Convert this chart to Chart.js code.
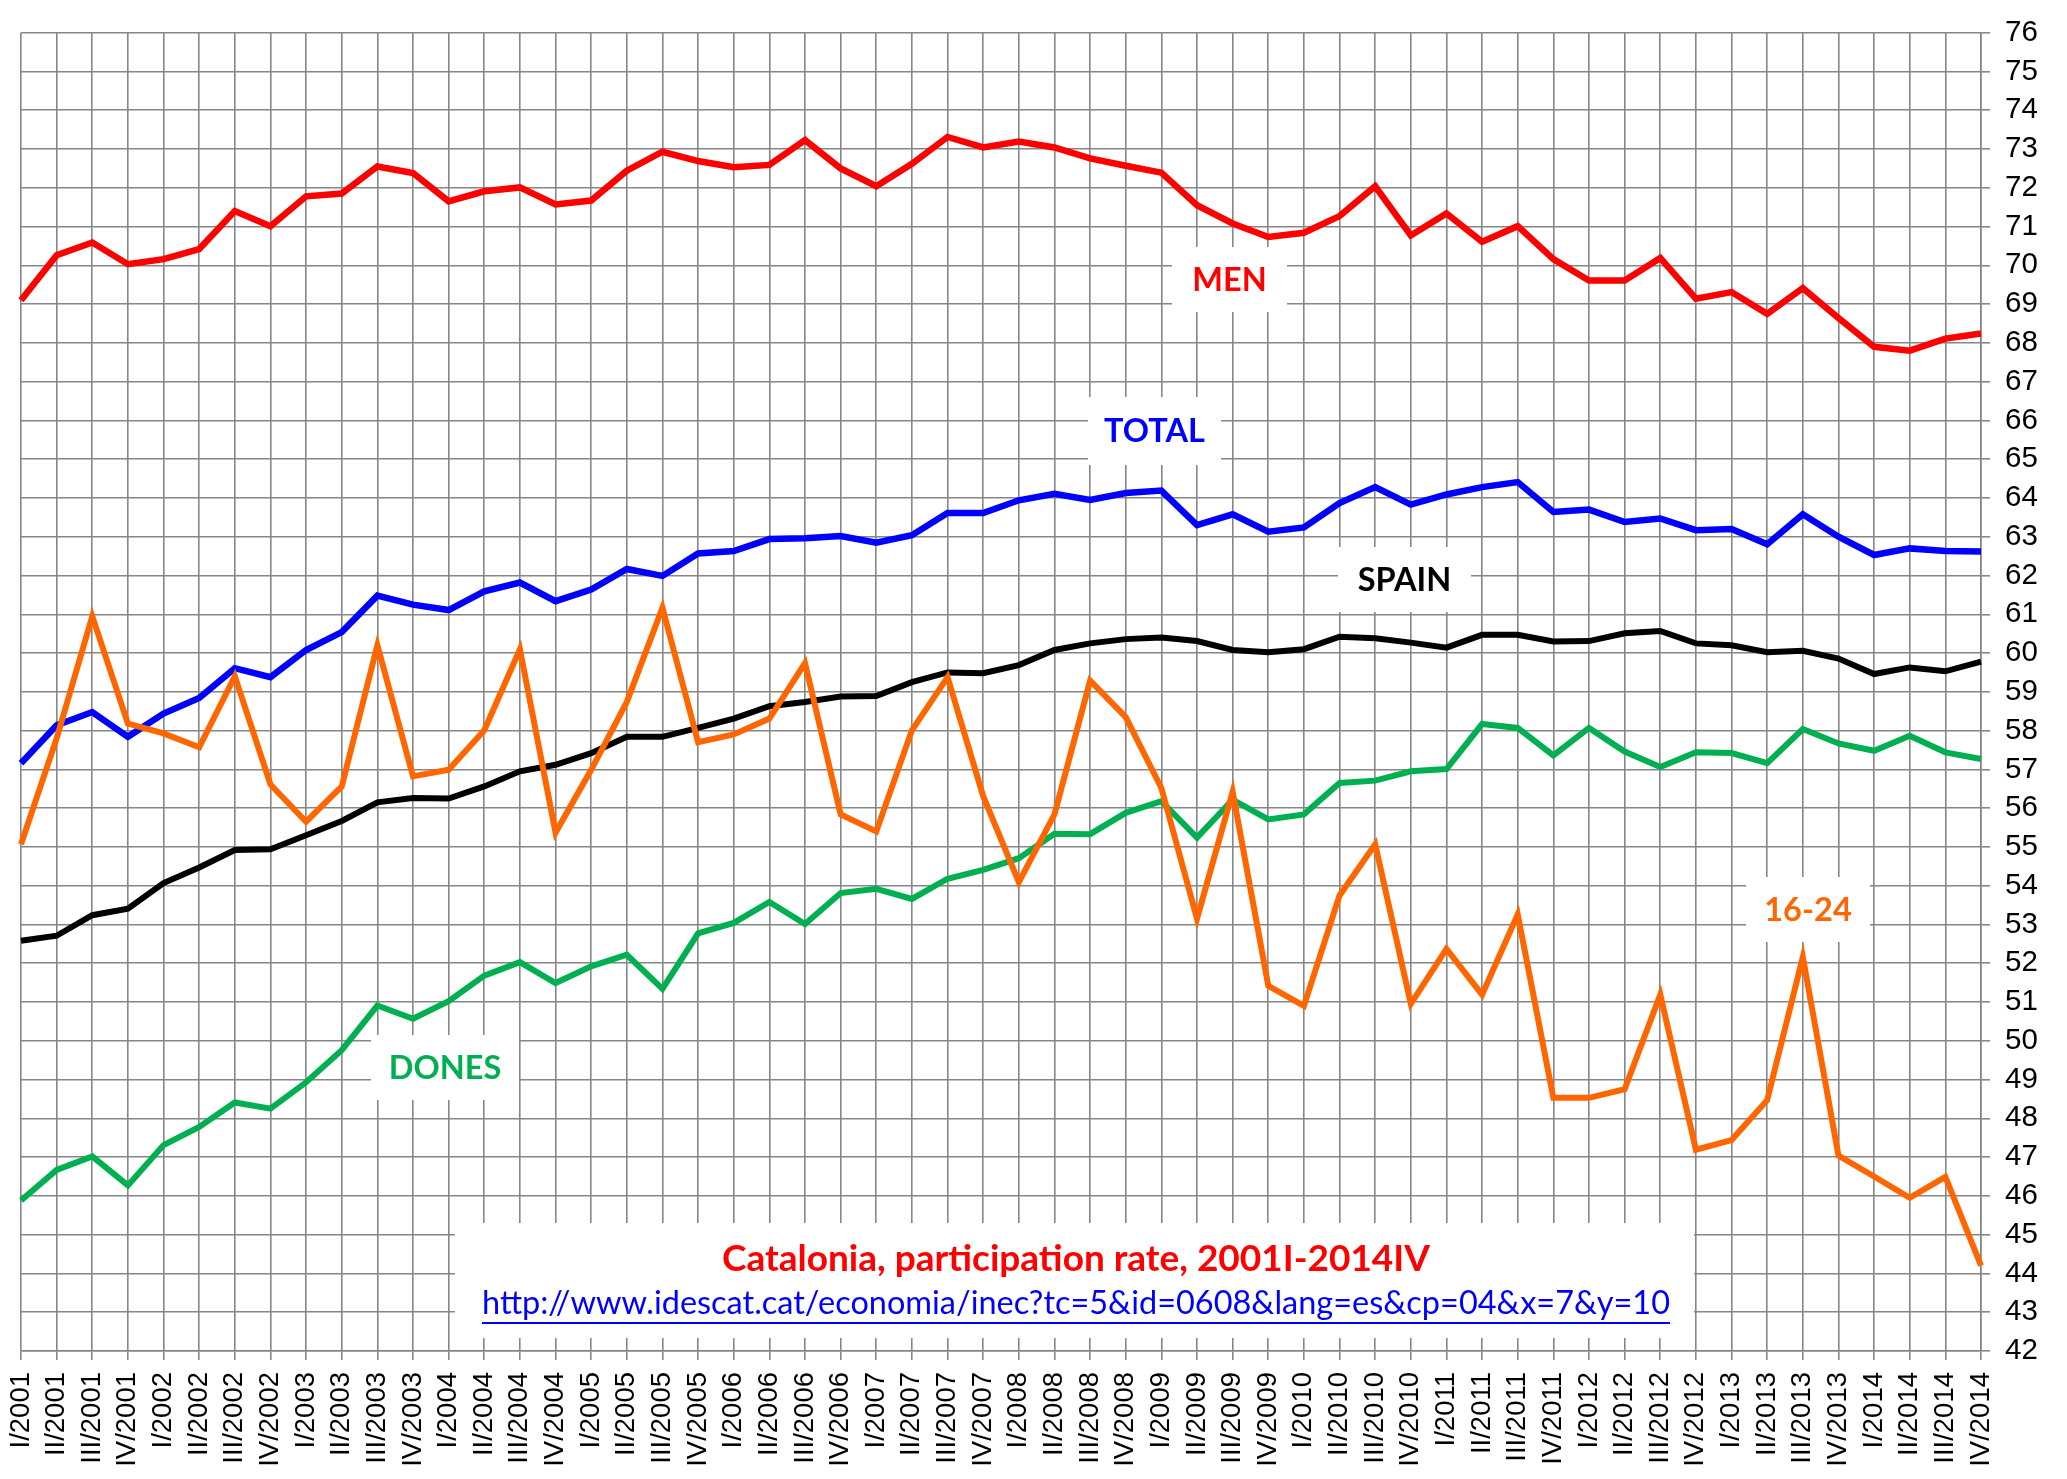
<!DOCTYPE html>
<html lang="en">
<head>
    <meta charset="UTF-8">
    <title>Catalonia, participation rate, 2001I-2014IV</title>
    <script src="https://cdn.jsdelivr.net/npm/chart.js"></script>
    <style>
        html, body { margin: 0; padding: 0; background: #fff; }
        #wrap { width: 2067px; height: 1479px; }
    </style>
</head>
<body>
    <div id="wrap">
        <canvas id="rateChart" width="2067" height="1479"></canvas>
    </div>

    <script>
        // quarters 2001 I .. 2014 IV
        const romans = ['I', 'II', 'III', 'IV'];
        const quarters = [];
        for (let y = 2001; y <= 2014; y++) {
            romans.forEach(r => quarters.push(r + '/' + y));
        }

        const men = [69.1, 70.26, 70.59, 70.03, 70.16, 70.42, 71.4, 71.01, 71.78, 71.85,
            72.55, 72.38, 71.65, 71.91, 72.01, 71.57, 71.67, 72.44, 72.93, 72.69,
            72.53, 72.59, 73.23, 72.5, 72.04, 72.62, 73.31, 73.04, 73.19, 73.04,
            72.76, 72.57, 72.39, 71.55, 71.08, 70.73, 70.84, 71.27, 72.04, 70.77,
            71.34, 70.61, 71.01, 70.16, 69.61, 69.61, 70.19, 69.14, 69.31, 68.75,
            69.41, 68.64, 67.9, 67.8, 68.11, 68.24];

        const total = [57.16, 58.14, 58.48, 57.84, 58.44, 58.84, 59.61, 59.38, 60.08, 60.54,
            61.48, 61.25, 61.11, 61.59, 61.82, 61.34, 61.64, 62.17, 61.99, 62.57,
            62.63, 62.94, 62.96, 63.02, 62.85, 63.04, 63.61, 63.61, 63.94, 64.11,
            63.95, 64.13, 64.19, 63.3, 63.58, 63.13, 63.24, 63.87, 64.28, 63.83,
            64.09, 64.28, 64.41, 63.64, 63.7, 63.38, 63.47, 63.17, 63.2, 62.81,
            63.58, 63.0, 62.53, 62.7, 62.63, 62.62];

        const spain = [52.58, 52.71, 53.24, 53.41, 54.07, 54.47, 54.92, 54.94, 55.3, 55.67,
            56.15, 56.26, 56.25, 56.56, 56.95, 57.12, 57.42, 57.84, 57.84, 58.07,
            58.31, 58.63, 58.74, 58.88, 58.89, 59.25, 59.5, 59.48, 59.69, 60.08,
            60.25, 60.36, 60.4, 60.31, 60.08, 60.02, 60.1, 60.42, 60.38, 60.27,
            60.14, 60.47, 60.47, 60.3, 60.31, 60.51, 60.57, 60.25, 60.2, 60.02,
            60.06, 59.86, 59.46, 59.63, 59.53, 59.78];

        const dones = [45.88, 46.67, 47.02, 46.27, 47.31, 47.78, 48.41, 48.25, 48.93, 49.76,
            50.91, 50.57, 51.02, 51.68, 52.03, 51.49, 51.92, 52.22, 51.34, 52.77,
            53.04, 53.58, 53.01, 53.81, 53.92, 53.66, 54.18, 54.41, 54.71, 55.34,
            55.33, 55.88, 56.18, 55.24, 56.22, 55.71, 55.84, 56.65, 56.71, 56.95,
            57.01, 58.17, 58.07, 57.36, 58.07, 57.46, 57.06, 57.44, 57.42, 57.16,
            58.04, 57.67, 57.48, 57.87, 57.44, 57.27];

        const young = [55.07, 57.8, 60.95, 58.18, 57.93, 57.57, 59.4, 56.61, 55.65, 56.56,
            60.2, 56.82, 56.99, 58.01, 60.1, 55.37, 56.99, 58.74, 61.17, 57.7,
            57.9, 58.31, 59.74, 55.84, 55.4, 58.01, 59.38, 56.31, 54.09, 55.84,
            59.29, 58.35, 56.52, 53.15, 56.42, 51.42, 50.9, 53.75, 55.07, 50.95,
            52.37, 51.19, 53.26, 48.53, 48.53, 48.75, 51.19, 47.19, 47.44, 48.47,
            52.16, 47.04, 46.5, 45.95, 46.49, 44.2];

        const yMin = 42;
        const yMax = 76;

        const titleText = 'Catalonia, participation rate, 2001I-2014IV';
        const linkText = 'http://www.idescat.cat/economia/inec?tc=5&id=0608&lang=es&cp=04&x=7&y=10';

        // white boxes with series names, pixel boxes [x, y, w, h]
        const seriesLabels = [
            { text: 'MEN', color: '#ff0000', box: [1172, 247, 115, 65] },
            { text: 'TOTAL', color: '#0000ff', box: [1088, 397, 133, 68] },
            { text: 'SPAIN', color: '#000000', box: [1338, 547, 133, 65] },
            { text: '16-24', color: '#ff6600', box: [1746, 877, 124, 65] },
            { text: 'DONES', color: '#00b050', box: [371, 1035, 148, 65] }
        ];

        const labelBoxes = {
            id: 'labelBoxes',
            beforeDatasetsDraw(chart) {
                const ctx = chart.ctx;
                ctx.save();
                ctx.fillStyle = '#ffffff';
                seriesLabels.forEach(l => ctx.fillRect(l.box[0], l.box[1], l.box[2], l.box[3]));
                ctx.fillRect(455, 1223, 1239, 115);

                ctx.textAlign = 'center';
                ctx.textBaseline = 'middle';
                ctx.font = 'bold 32.5px Lato';
                seriesLabels.forEach(l => {
                    ctx.fillStyle = l.color;
                    ctx.fillText(l.text, l.box[0] + l.box[2] / 2, l.box[1] + l.box[3] / 2 + 1);
                });

                ctx.fillStyle = '#ff0000';
                ctx.font = 'bold 37px Lato';
                ctx.fillText(titleText, 1076, 1259, 722);

                ctx.fillStyle = '#0000ff';
                ctx.font = '32.5px Lato';
                ctx.fillText(linkText, 1076, 1304, 1188);
                const w = Math.min(ctx.measureText(linkText).width, 1188);
                ctx.fillRect(1076 - w / 2, 1322, w, 2);
                ctx.restore();
            }
        };

        const ctx = document.getElementById('rateChart').getContext('2d');
        new Chart(ctx, {
            type: 'line',
            data: {
                labels: quarters,
                datasets: [
                    { label: '16-24', data: young, borderColor: '#ff6600', borderWidth: 6 },
                    { label: 'MEN', data: men, borderColor: '#ff0000', borderWidth: 6.5 },
                    { label: 'TOTAL', data: total, borderColor: '#0000ff', borderWidth: 6.5 },
                    { label: 'SPAIN', data: spain, borderColor: '#000000', borderWidth: 6 },
                    { label: 'DONES', data: dones, borderColor: '#00b050', borderWidth: 6 }
                ]
            },
            options: {
                responsive: false,
                animation: false,
                devicePixelRatio: 1,
                layout: { padding: { left: 21, top: 22, right: 0, bottom: 0 } },
                elements: {
                    point: { radius: 0 },
                    line: { tension: 0, borderJoinStyle: 'miter', borderCapStyle: 'butt' }
                },
                plugins: {
                    legend: { display: false },
                    tooltip: { enabled: false }
                },
                scales: {
                    x: {
                        offset: false,
                        grid: { color: '#868686', lineWidth: 1.6, tickLength: 9, offset: false },
                        border: { color: '#868686', width: 1.6 },
                        ticks: {
                            autoSkip: false,
                            minRotation: 90,
                            maxRotation: 90,
                            padding: 12,
                            color: '#000',
                            font: { family: 'Liberation Sans', size: 27.5 }
                        },
                        afterFit(scale) { scale.height = 128; }
                    },
                    y: {
                        position: 'right',
                        min: yMin,
                        max: yMax,
                        grid: { color: '#868686', lineWidth: 1.6, tickLength: 9 },
                        border: { color: '#868686', width: 1.6 },
                        ticks: {
                            stepSize: 1,
                            autoSkip: false,
                            padding: 15,
                            color: '#000',
                            font: { family: 'Liberation Sans', size: 29.5 }
                        },
                        afterFit(scale) { scale.width = 86; }
                    }
                }
            },
            plugins: [labelBoxes]
        });
    </script>
</body>
</html>
